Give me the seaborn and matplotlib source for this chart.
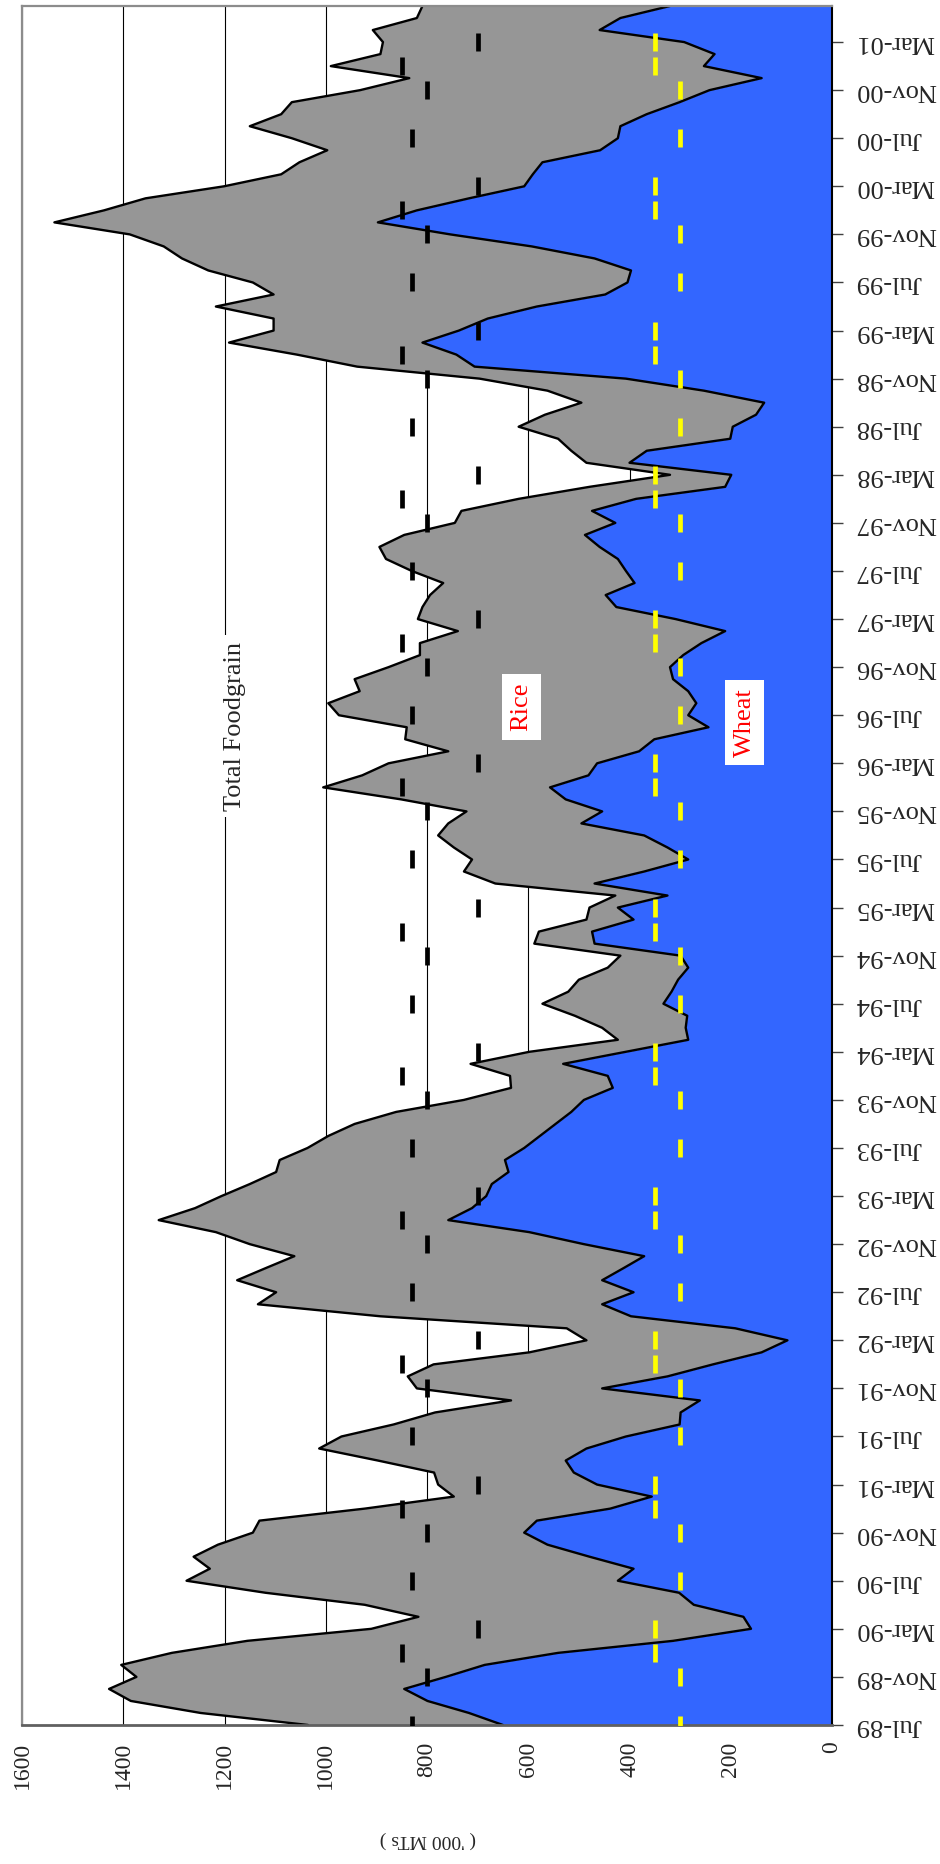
import numpy as np
import pandas as pd
import seaborn as sns
import matplotlib.pyplot as plt

# Stok verileri ('000 MTs), aylik: Jul-89 .. Jun-01
total = [1035, 1247, 1385, 1428, 1374, 1404, 1304, 1155, 910, 817, 923, 1119,
         1275, 1229, 1261, 1213, 1144, 1131, 923, 747, 778, 786, 897, 1013,
         969, 866, 784, 634, 820, 838, 787, 598, 485, 524, 892, 1134,
         1098, 1175, 1119, 1062, 1150, 1217, 1330, 1258, 1206, 1150, 1098, 1091,
         1036, 995, 943, 861, 727, 634, 636, 714, 598, 423, 454, 508,
         572, 521, 500, 443, 418, 588, 579, 485, 479, 428, 665, 727,
         711, 747, 778, 758, 722, 851, 1005, 928, 876, 758, 843, 840,
         974, 995, 933, 943, 876, 814, 814, 739, 818, 809, 794, 768,
         830, 881, 894, 845, 745, 732, 619, 479, 320, 485, 515, 541,
         619, 567, 495, 562, 696, 938, 1057, 1191, 1103, 1103, 1217, 1103,
         1144, 1232, 1284, 1320, 1387, 1536, 1438, 1356, 1201, 1088, 1052, 997,
         1067, 1150, 1088, 1067, 932, 835, 990, 892, 887, 907, 820, 809]
wheat = [650, 717, 799, 845, 763, 686, 541, 314, 160, 175, 273, 302,
         423, 392, 479, 562, 608, 583, 438, 356, 464, 510, 526, 485,
         407, 301, 299, 261, 454, 325, 235, 139, 88, 191, 397, 454,
         392, 454, 412, 371, 490, 598, 758, 711, 683, 672, 639, 646,
         608, 577, 546, 515, 490, 433, 443, 531, 407, 284, 289, 286,
         333, 317, 304, 284, 299, 469, 474, 392, 423, 325, 469, 371,
         284, 325, 371, 495, 454, 526, 557, 481, 464, 381, 351, 244,
         284, 268, 284, 314, 320, 294, 258, 211, 309, 426, 447, 390,
         407, 423, 459, 488, 428, 474, 387, 211, 199, 400, 366, 201,
         196, 150, 134, 253, 407, 706, 742, 809, 737, 680, 583, 448,
         404, 397, 469, 593, 754, 897, 820, 717, 608, 591, 572, 458,
         423, 418, 366, 301, 242, 139, 253, 232, 292, 459, 418, 320]

# Norm degerleri (ay bazinda)
norm_ay = ['Jul', 'Nov', 'Jan', 'Mar']
norm_total = [830, 800, 850, 700]
norm_wheat = [300, 300, 350, 350]

tarih = pd.date_range('1989-07-01', periods=len(total), freq='MS')
df = pd.DataFrame({'Tarih': tarih, 'Total': total, 'Wheat': wheat})
df['Ay'] = np.arange(len(df))
df['Etiket'] = df['Tarih'].dt.strftime('%b-%y')

norm = df[df['Tarih'].dt.strftime('%b').isin(norm_ay) & (df['Ay'] <= 140)].copy()
ay_ad = norm['Tarih'].dt.strftime('%b')
norm['NormTotal'] = ay_ad.map(dict(zip(norm_ay, norm_total)))
norm['NormWheat'] = ay_ad.map(dict(zip(norm_ay, norm_wheat)))

sns.set_style('white')
plt.rcParams['font.family'] = ['Liberation Serif', 'DejaVu Serif']

fig = plt.figure(figsize=(9.4, 18.64), dpi=100)
ax = fig.add_axes([22 / 940, 1 - 1725 / 1864, 810 / 940, 1719 / 1864])

# Alanlar
ax.fill_betweenx(df['Ay'], 0, df['Wheat'], color='#3366FF', lw=0, zorder=1)
ax.fill_betweenx(df['Ay'], df['Wheat'], df['Total'], color='#969696', lw=0, zorder=1)
sns.lineplot(data=df, x='Wheat', y='Ay', orient='y', sort=False, estimator=None,
             color='black', lw=1.7, ax=ax, zorder=2)
sns.lineplot(data=df, x='Total', y='Ay', orient='y', sort=False, estimator=None,
             color='black', lw=1.7, ax=ax, zorder=2)

# Norm isaretleri
sns.scatterplot(data=norm, x='NormTotal', y='Ay', marker='|', s=150, linewidth=3.4,
                color='black', ax=ax, zorder=3)
sns.scatterplot(data=norm, x='NormWheat', y='Ay', marker='|', s=150, linewidth=3.4,
                color='#FFFF00', ax=ax, zorder=3)

ax.set_xlim(1600, 0)
ax.set_ylim(0, 143)
ax.set_xticks(range(0, 1601, 200))
ax.set_xticklabels([str(v) for v in range(0, 1601, 200)], rotation=90, fontsize=17)
ax.xaxis.grid(True, color='black', lw=0.8)
ax.yaxis.grid(False)
ax.set_axisbelow(True)

ax.yaxis.tick_right()
ax.set_yticks(df['Ay'][::4][:36])
ax.set_yticklabels(df['Etiket'][::4][:36], rotation=180, fontsize=19, va='center')
ax.tick_params(axis='y', direction='out', length=8, width=1, color='#404040', pad=9)
ax.tick_params(axis='x', direction='out', length=6, width=1, color='#606060', pad=6)
ax.set_xlabel('')
ax.set_ylabel('')

for s in ['left', 'top']:
    ax.spines[s].set_color('#8c8c8c')
    ax.spines[s].set_linewidth(1.6)
ax.spines['bottom'].set_color('#606060')
ax.spines['bottom'].set_linewidth(2)
ax.spines['right'].set_color('black')
ax.spines['right'].set_linewidth(1.5)

ax.text(1179, 83.1, 'Total Foodgrain', rotation=90, ha='center', va='center', fontsize=19,
        bbox=dict(fc='white', ec='none', pad=5), zorder=0.8)
ax.text(614, 84.7, 'Rice', rotation=90, ha='center', va='center', fontsize=19, color='red',
        bbox=dict(fc='white', ec='none', pad=6), zorder=4)
ax.text(172, 83.4, 'Wheat', rotation=90, ha='center', va='center', fontsize=19, color='red',
        bbox=dict(fc='white', ec='none', pad=6), zorder=4)

fig.text(428 / 940, 1 - 1840 / 1864, "( '000 MTs )", rotation=180, ha='center', va='center',
         fontsize=14)

plt.savefig('out.png', dpi=100)
